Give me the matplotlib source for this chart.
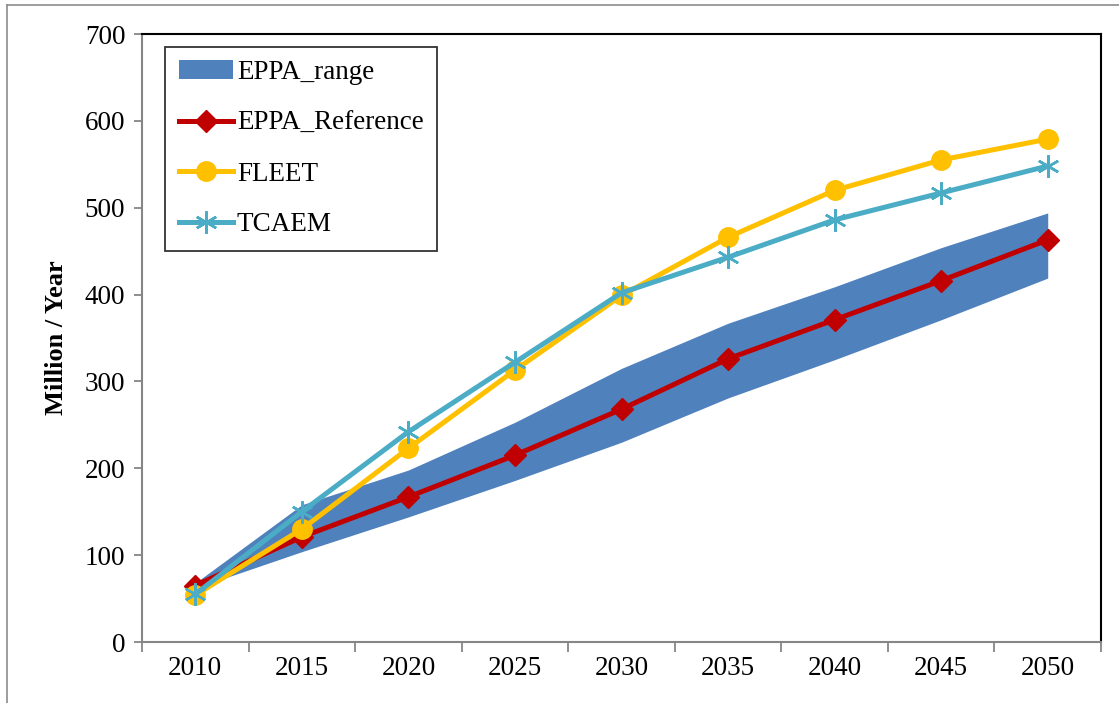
import matplotlib.pyplot as plt
from matplotlib.patches import Patch
from matplotlib.lines import Line2D

years = ["2010", "2015", "2020", "2025", "2030", "2035", "2040", "2045", "2050"]
eppa_low = [62, 104, 144, 186, 230, 281, 325, 371, 419]
eppa_high = [68, 158, 198, 253, 315, 367, 409, 454, 494]
eppa_ref = [65, 121, 167, 215, 268, 326, 371, 416, 463]
fleet = [54, 130, 223, 313, 399, 466, 520, 555, 579]
tcaem = [55, 150, 242, 322, 402, 443, 486, 517, 548]

plt.rcParams['font.family'] = ['Liberation Serif', 'DejaVu Serif']

fig = plt.figure(figsize=(11.19, 7.03), dpi=100)
ax = fig.add_axes([142/1119, 61/703, 959/1119, 608/703])

x = range(len(years))
blue = '#4F81BD'
red = '#C00000'
yellow = '#FFC000'
teal = '#4BACC6'
star = (6, 2, 0)

ax.fill_between(x, eppa_low, eppa_high, color=blue, linewidth=0, zorder=1)
ax.plot(x, eppa_ref, color=red, lw=3.6, marker='D', ms=11, zorder=3)
ax.plot(x, fleet, color=yellow, lw=3.6, marker='o', ms=14, zorder=4)
ax.plot(x, tcaem, color=teal, lw=3.6, marker=star, ms=16, mew=1.8, zorder=5)

ax.set_xlim(-0.5, len(years) - 0.5)
ax.set_ylim(0, 700)
ax.set_yticks(range(0, 701, 100))
ax.set_xticks(list(x))
ax.set_xticklabels(years)
ax.set_xticks([i - 0.5 for i in range(len(years) + 1)], minor=True)
ax.tick_params(axis='x', which='major', length=0, labelsize=19.5, pad=10)
ax.tick_params(axis='x', which='minor', length=7, width=1.3, color='#868686', direction='out')
ax.tick_params(axis='y', length=6, width=1.3, color='#868686', labelsize=19.5, pad=6)

for s in ['left', 'bottom']:
    ax.spines[s].set_color('#868686')
    ax.spines[s].set_linewidth(1.5)
for s in ['top', 'right']:
    ax.spines[s].set_color('black')
    ax.spines[s].set_linewidth(1.5)

ax.set_ylabel("Million / Year", fontsize=19, fontweight='bold', labelpad=12)

handles = [
    Patch(facecolor=blue, edgecolor='none'),
    Line2D([], [], color=red, lw=3.6, marker='D', ms=11),
    Line2D([], [], color=yellow, lw=3.6, marker='o', ms=14),
    Line2D([], [], color=teal, lw=3.6, marker=star, ms=16, mew=1.8),
]
labels = ["EPPA_range", "EPPA_Reference", "FLEET", "TCAEM"]
leg = ax.legend(handles, labels, loc='upper left', bbox_to_anchor=(0.024, 0.979),
                fontsize=19.5, frameon=True, fancybox=False, edgecolor='black',
                handlelength=2.0, handletextpad=0.15, labelspacing=0.95,
                borderpad=0.5, borderaxespad=0)
leg.get_frame().set_linewidth(1.3)

# outer chart border
fig.add_artist(Line2D([7/1119, 7/1119], [0, 1 - 5/703], transform=fig.transFigure, color='#8c8c8c', lw=1.2))
fig.add_artist(Line2D([7/1119, 1], [1 - 5/703, 1 - 5/703], transform=fig.transFigure, color='#8c8c8c', lw=1.2))

fig.savefig("out.png", dpi=100)
